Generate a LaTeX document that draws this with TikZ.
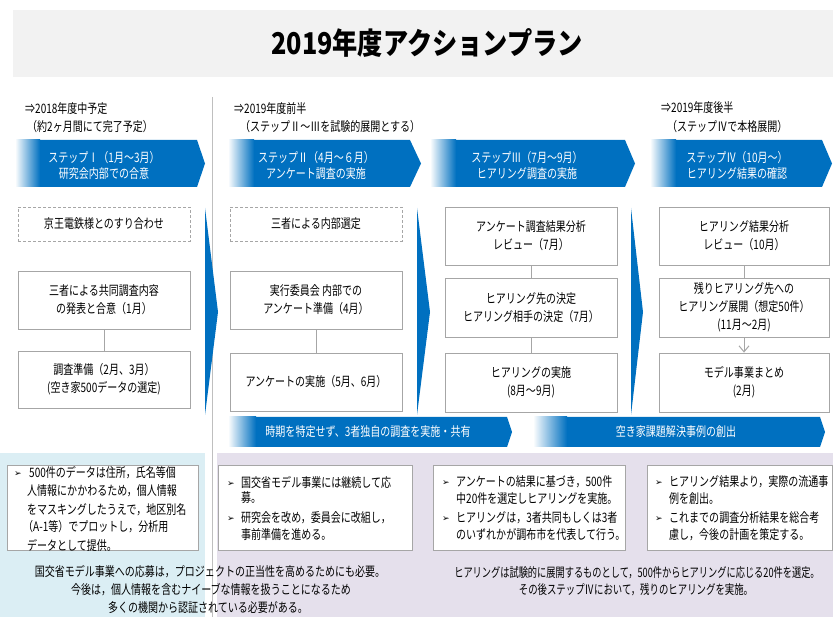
\documentclass[tikz,border=0pt]{standalone}
\usepackage{fontspec}
\usepackage{graphicx}
\setmainfont{Noto Sans CJK JP}[FakeStretch=0.77]
\newfontfamily\titlefont{Noto Sans CJK JP}[FakeStretch=0.84]
\newfontfamily\symfont{DejaVu Sans}
\usetikzlibrary{arrows.meta}
\definecolor{cblue}{HTML}{0070C0}
\definecolor{boxgray}{HTML}{A6A6A6}
\definecolor{divgray}{HTML}{BFBFBF}
\definecolor{bandgray}{HTML}{F2F2F2}
\definecolor{lblue}{HTML}{DBEEF4}
\definecolor{lpurple}{HTML}{E5E0EC}
\begin{document}
\begin{tikzpicture}[x=1pt,y=-1pt,font=\fontsize{13}{18}\selectfont,
  box/.style={draw=boxgray,line width=0.8pt,fill=white,minimum width=172pt,minimum height=58pt,align=center,inner sep=2pt},
  dbox/.style={box,minimum height=34pt,dash pattern=on 3pt off 2pt},
  conn/.style={draw=boxgray,line width=0.8pt},
  wbox/.style={draw=boxgray,line width=0.8pt,fill=white,minimum height=85pt,inner sep=0pt},
  steptext/.style={text=white,align=center,font=\fontsize{13}{16.5}\selectfont},
  ltxt/.style={anchor=base west,inner sep=0pt},
  ctxt/.style={anchor=base,inner sep=0pt},
  bul/.style={anchor=base west,inner sep=0pt,font=\symfont\fontsize{9}{10}\selectfont}]
\useasboundingbox (0,0) rectangle (833,617);
% title band
\fill[bandgray] (13,10) rectangle (833,77);
\node[inner sep=0pt] (title) at (427,43) {\titlefont\fontsize{30}{31}\selectfont\bfseries 2019年度アクションプラン};
% bottom backgrounds
\fill[lblue] (0,453) rectangle (205,617);
\fill[lpurple] (217,453) rectangle (833,617);
% divider
\draw[divgray,line width=1pt] (212,97) -- (212,617);
% header texts
\node[ltxt] (h1a) at (25,114) {⇒2018年度中予定};
\node[ltxt] (h1b) at (27,131.5) {（約2ヶ月間にて完了予定）};
\node[ltxt] (h2a) at (234,114) {⇒2019年度前半};
\node[ltxt] (h2b) at (240,131.5) {（ステップⅡ～Ⅲを試験的展開とする）};
\node[ltxt] (h4a) at (661,113) {⇒2019年度後半};
\node[ltxt] (h4b) at (667,131.5) {（ステップⅣで本格展開）};
% step chevrons
\fill[cblue] (15,140) -- (197,140) -- (205,163.5) -- (197,187) -- (15,187) -- cycle;
\shade[left color=white,right color=cblue] (15,140) rectangle (40,187);
\fill[cblue] (228,140) -- (410,140) -- (421,163.5) -- (410,187) -- (228,187) -- cycle;
\shade[left color=white,right color=cblue] (228,140) rectangle (254,187);
\fill[cblue] (430,140) -- (625,140) -- (635,163.5) -- (625,187) -- (430,187) -- cycle;
\shade[left color=white,right color=cblue] (430,140) rectangle (456,187);
\fill[cblue] (650,140) -- (822,140) -- (832,163.5) -- (822,187) -- (650,187) -- cycle;
\shade[left color=white,right color=cblue] (650,140) rectangle (676,187);
\node[steptext] (s1) at (104,165.5) {ステップⅠ（1月～3月）\\研究会内部での合意};
\node[steptext] (s2) at (316,165.5) {ステップⅡ（4月～６月）\\アンケート調査の実施};
\node[steptext] (s3) at (527,165.5) {ステップⅢ（7月～9月）\\ヒアリング調査の実施};
\node[steptext] (s4) at (737,165.5) {ステップⅣ（10月～）\\ヒアリング結果の確認};
% vertical chevrons
\fill[cblue] (205,208) -- (218,312) -- (205,415) -- cycle;
\fill[cblue] (417,208) -- (430,312) -- (417,415) -- cycle;
\fill[cblue] (631,208) -- (643,312) -- (631,415) -- cycle;
% column 1
\node[dbox] (c1a) at (104,224) {京王電鉄様とのすり合わせ};
\node[box] (c1b) at (104,300) {三者による共同調査内容\\の発表と合意（1月）};
\node[box,minimum height=57pt] (c1c) at (104,379.5) {調査準備（2月、3月）\\(空き家500データの選定)};
\draw[conn] (c1b) -- (c1c);
% column 2
\node[dbox] (c2a) at (316,224) {三者による内部選定};
\node[box] (c2b) at (316,300) {実行委員会\ 内部での\\アンケート準備（4月）};
\node[box] (c2c) at (316,382) {アンケートの実施（5月、6月）};
\draw[conn] (c2b) -- (c2c);
% column 3
\node[box] (c3a) at (531,236) {アンケート調査結果分析\\レビュー（7月）};
\node[box,minimum height=59pt] (c3b) at (531,307.5) {ヒアリング先の決定\\ヒアリング相手の決定（7月）};
\node[box,minimum height=59pt] (c3c) at (531,382.5) {ヒアリングの実施\\(8月～9月)};
\draw[conn] (c3a) -- (c3b);
\draw[conn] (c3b) -- (c3c);
% column 4
\node[box,minimum width=170pt] (c4a) at (744,236) {ヒアリング結果分析\\レビュー（10月）};
\node[box,minimum width=170pt,minimum height=59pt] (c4b) at (744,307.5) {残りヒアリング先への\\ヒアリング展開（想定50件）\\(11月～2月)};
\node[box,minimum width=170pt,minimum height=59pt] (c4c) at (744,382.5) {モデル事業まとめ\\(2月)};
\draw[conn] (c4a) -- (c4b);
\draw[conn,-{Straight Barb[length=6pt,width=10pt,line width=1pt]}] (c4b) -- (c4c);
% bottom chevrons
\fill[cblue] (228,417) -- (507,417) -- (512,432) -- (507,447) -- (228,447) -- cycle;
\shade[left color=white,right color=cblue] (228,417) rectangle (256,447);
\fill[cblue] (533,417) -- (820,417) -- (825,432) -- (820,447) -- (533,447) -- cycle;
\shade[left color=white,right color=cblue] (533,417) rectangle (567,447);
\node[text=white] (bc1) at (368,432) {時期を特定せず、3者独自の調査を実施・共有};
\node[text=white] (bc2) at (676,432) {空き家課題解決事例の創出};
% bullet boxes
\node[wbox,minimum width=191pt] (b1) at (102.5,507.5) {};
\node[wbox,minimum width=194pt] (b2) at (315,507.5) {};
\node[wbox,minimum width=192pt] (b3) at (529,507.5) {};
\node[wbox,minimum width=185pt] (b4) at (739.5,507.5) {};
% box 1 text
\node[bul] (b1m1) at (14,476.5) {➢};
\node[ltxt] (b1l1) at (29,477.5) {500件のデータは住所，氏名等個};
\node[ltxt] (b1l2) at (27,496) {人情報にかかわるため，個人情報};
\node[ltxt] (b1l3) at (27,514) {をマスキングしたうえで，地区別名};
\node[ltxt] (b1l4) at (23,531.5) {（A-1等）でプロットし，分析用};
\node[ltxt] (b1l5) at (27,550) {データとして提供。};
% box 2 text
\node[bul] (b2m1) at (227,486.5) {➢};
\node[ltxt] (b2l1) at (241,487.5) {国交省モデル事業には継続して応};
\node[ltxt] (b2l2) at (241,503) {募。};
\node[bul] (b2m2) at (227,521.5) {➢};
\node[ltxt] (b2l3) at (241,522.5) {研究会を改め，委員会に改組し，};
\node[ltxt] (b2l4) at (241,539.5) {事前準備を進める。};
% box 3 text
\node[bul] (b3m1) at (442,485.5) {➢};
\node[ltxt] (b3l1) at (456,486.5) {アンケートの結果に基づき，500件};
\node[ltxt] (b3l2) at (456,503.5) {中20件を選定しヒアリングを実施。};
\node[bul] (b3m2) at (442,521.5) {➢};
\node[ltxt] (b3l3) at (456,522.5) {ヒアリングは，3者共同もしくは3者};
\node[ltxt] (b3l4) at (456,539.5) {のいずれかが調布市を代表して行う。};
% box 4 text
\node[bul] (b4m1) at (655,485.5) {➢};
\node[ltxt] (b4l1) at (669,486.5) {ヒアリング結果より，実際の流通事};
\node[ltxt] (b4l2) at (669,503.5) {例を創出。};
\node[bul] (b4m2) at (655,521.5) {➢};
\node[ltxt] (b4l3) at (669,522.5) {これまでの調査分析結果を総合考};
\node[ltxt] (b4l4) at (669,539.5) {慮し，今後の計画を策定する。};
% bottom texts
\node[ctxt] (n1) at (210,576.5) {国交省モデル事業への応募は，プロジェクトの正当性を高めるためにも必要。};
\node[ctxt] (n2) at (211,594.5) {今後は，個人情報を含むナイーブな情報を扱うことになるため};
\node[ctxt] (n3) at (208,612.5) {多くの機関から認証されている必要がある。};
\node[ctxt] (n4) at (637,577.5) {\scalebox{0.92}[1]{ヒアリングは試験的に展開するものとして，500件からヒアリングに応じる20件を選定。}};
\node[ctxt] (n5) at (636,594.5) {\scalebox{0.94}[1]{その後ステップⅣにおいて，残りのヒアリングを実施。}};
\end{tikzpicture}
\end{document}
